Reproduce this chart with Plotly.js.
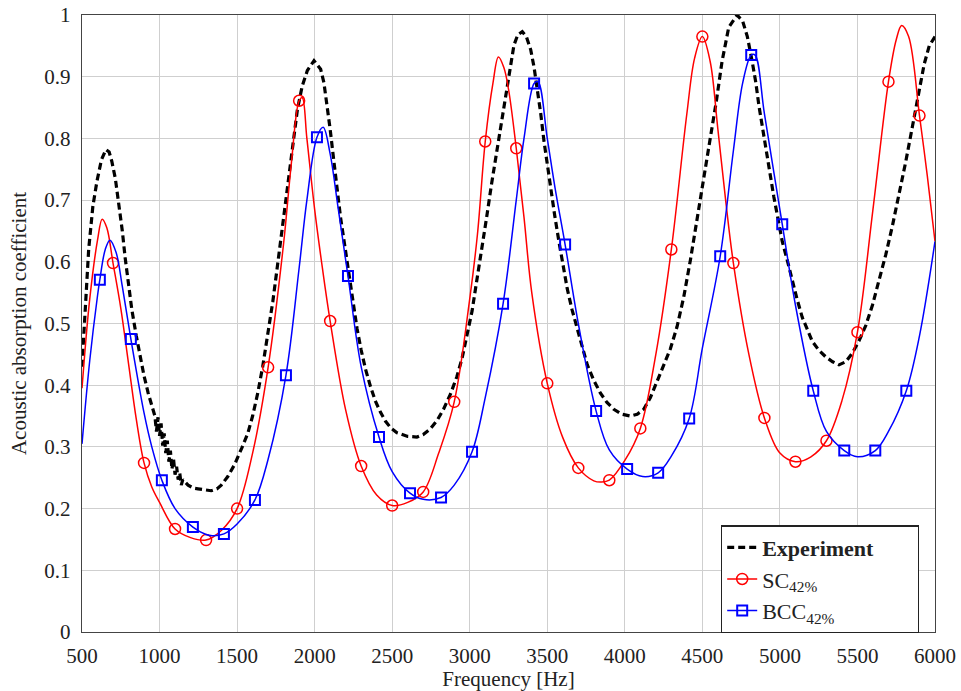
<!DOCTYPE html>
<html>
<head>
<meta charset="utf-8">
<script src="https://cdn.plot.ly/plotly-3.0.1.min.js"></script>
<style>html,body{margin:0;padding:0;background:#fff;}#chart{width:961px;height:691px;}</style>
</head>
<body>
<div id="chart"></div>
<script>
// ---- Experiment (measured) ----
const expFreq = [500,520,543,570,596,625,654,675,692,715,735,760,778,800,821,850,874,900,927,950,970,980,990,1000,1010,1020,1030,1040,1050,1060,1070,1080,1090,1100,1110,1120,1130,1140,1150,1184,1220,1248,1290,1333,1370,1398,1440,1483,1530,1569,1600,1633,1665,1697,1730,1761,1795,1825,1860,1889,1920,1953,1996,2039,2060,2081,2100,2124,2145,2167,2195,2221,2250,2274,2300,2328,2360,2392,2425,2456,2490,2531,2600,2659,2700,2745,2790,2831,2875,2916,2950,2981,3015,3045,3075,3109,3140,3173,3205,3238,3260,3285,3310,3339,3365,3393,3415,3436,3458,3479,3500,3521,3548,3575,3600,3629,3660,3693,3725,3758,3800,3843,3885,3929,3980,4036,4080,4122,4165,4208,4250,4294,4337,4380,4423,4466,4510,4552,4590,4627,4670,4724,4760,4790,4821,4845,4864,4885,4907,4935,4961,4990,5015,5050,5080,5110,5144,5175,5209,5250,5295,5340,5381,5425,5467,5510,5554,5597,5640,5683,5726,5770,5812,5855,5899,5930,5963,6000];
const expAbs = [0.43,0.52,0.62,0.69,0.73,0.765,0.782,0.778,0.763,0.735,0.698,0.65,0.607,0.565,0.523,0.48,0.446,0.415,0.387,0.365,0.35,0.325,0.348,0.318,0.338,0.302,0.322,0.29,0.31,0.276,0.294,0.264,0.281,0.255,0.268,0.247,0.258,0.238,0.247,0.238,0.233,0.232,0.23,0.229,0.232,0.238,0.252,0.271,0.298,0.322,0.35,0.387,0.43,0.478,0.535,0.595,0.66,0.724,0.79,0.847,0.885,0.91,0.926,0.912,0.89,0.854,0.815,0.763,0.715,0.672,0.625,0.582,0.535,0.491,0.457,0.426,0.398,0.374,0.356,0.342,0.331,0.323,0.317,0.316,0.32,0.329,0.343,0.361,0.385,0.413,0.443,0.478,0.52,0.569,0.615,0.672,0.725,0.776,0.83,0.88,0.915,0.951,0.968,0.973,0.965,0.944,0.915,0.88,0.84,0.795,0.757,0.718,0.675,0.633,0.595,0.556,0.522,0.491,0.46,0.433,0.408,0.387,0.372,0.361,0.353,0.35,0.353,0.361,0.38,0.407,0.43,0.459,0.495,0.543,0.603,0.672,0.74,0.802,0.86,0.925,0.98,1.0,0.99,0.965,0.925,0.89,0.854,0.82,0.782,0.745,0.705,0.665,0.633,0.6,0.569,0.54,0.51,0.49,0.471,0.457,0.446,0.438,0.433,0.438,0.452,0.472,0.497,0.53,0.569,0.612,0.659,0.71,0.763,0.82,0.88,0.92,0.95,0.965];

// ---- SC 42% (simulation) ----
const scFreq = [500,550,600,630,660,700,750,800,850,900,950,1000,1100,1200,1300,1400,1500,1600,1700,1800,1850,1900,1920,1950,2000,2050,2100,2200,2300,2400,2500,2600,2700,2800,2900,3000,3050,3100,3150,3185,3220,3250,3300,3350,3400,3500,3600,3700,3800,3850,3900,4000,4100,4200,4300,4400,4450,4500,4550,4600,4650,4700,4800,4900,5000,5100,5200,5300,5400,5500,5600,5700,5750,5785,5830,5900,5950,6000];
const scAbs  = [0.395,0.54,0.635,0.669,0.655,0.598,0.525,0.435,0.345,0.274,0.235,0.21,0.167,0.153,0.149,0.165,0.2,0.29,0.429,0.63,0.76,0.861,0.866,0.8,0.685,0.59,0.504,0.36,0.269,0.222,0.205,0.21,0.227,0.29,0.373,0.54,0.645,0.795,0.89,0.932,0.915,0.88,0.784,0.672,0.55,0.403,0.315,0.266,0.245,0.243,0.246,0.278,0.33,0.45,0.62,0.84,0.93,0.965,0.925,0.815,0.7,0.598,0.45,0.347,0.29,0.276,0.284,0.31,0.375,0.486,0.685,0.892,0.96,0.983,0.965,0.837,0.74,0.633];
const scMarkFreq = [700,900,1100,1300,1500,1700,1900,2100,2300,2500,2700,2900,3100,3300,3500,3700,3900,4100,4300,4500,4700,4900,5100,5300,5500,5700,5900];

// ---- BCC 42% (simulation) ----
const bccFreq = [500,550,600,615,650,680,720,760,815,900,950,1015,1100,1215,1300,1340,1415,1500,1615,1700,1815,1900,1950,2015,2055,2100,2150,2215,2300,2415,2500,2615,2700,2815,2900,3015,3100,3215,3300,3350,3415,3440,3500,3550,3615,3700,3815,3900,4015,4115,4215,4300,4415,4500,4615,4700,4760,4815,4840,4900,5015,5100,5215,5300,5415,5500,5615,5700,5815,5900,6000];
const bccAbs  = [0.305,0.44,0.545,0.571,0.62,0.635,0.615,0.56,0.475,0.355,0.3,0.246,0.2,0.17,0.158,0.156,0.159,0.175,0.214,0.28,0.416,0.59,0.7,0.802,0.818,0.775,0.69,0.577,0.43,0.316,0.26,0.225,0.215,0.218,0.238,0.292,0.38,0.532,0.7,0.8,0.889,0.892,0.8,0.72,0.628,0.5,0.358,0.295,0.264,0.252,0.258,0.285,0.346,0.46,0.609,0.78,0.89,0.935,0.935,0.84,0.661,0.53,0.391,0.325,0.294,0.284,0.294,0.325,0.391,0.48,0.633];
const bccMarkFreq = [615,815,1015,1215,1415,1615,1815,2015,2215,2415,2615,2815,3015,3215,3415,3615,3815,4015,4215,4415,4615,4815,5015,5215,5415,5615,5815];

// ---- axis ticks / labels ----
const xTicks = [500,1000,1500,2000,2500,3000,3500,4000,4500,5000,5500,6000];
const yTicks = [0,0.1,0.2,0.3,0.4,0.5,0.6,0.7,0.8,0.9,1];
const seriesNames = ['<b>Experiment</b>&nbsp;&nbsp;&nbsp;&nbsp;&nbsp;&nbsp;&nbsp;','SC<sub>42%</sub>','BCC<sub>42%</sub>'];

function markerSeries(freq, vals, marks){
  const xs=[], ys=[];
  marks.forEach(function(f){
    const i = freq.indexOf(f);
    xs.push(f); ys.push(vals[i]);
    xs.push(null); ys.push(null);
  });
  return {x:xs, y:ys};
}
const scM = markerSeries(scFreq, scAbs, scMarkFreq);
const bccM = markerSeries(bccFreq, bccAbs, bccMarkFreq);

const RED='#ff0000', BLUE='#0000ff';
const traces = [
  {x:expFreq, y:expAbs, mode:'lines', name:seriesNames[0],
   line:{color:'#000', width:3.2, dash:'7px,4px'}},
  {x:scFreq, y:scAbs, mode:'lines', showlegend:false, hoverinfo:'skip',
   line:{color:RED, width:1.5, shape:'spline', smoothing:1}},
  {x:scM.x, y:scM.y, mode:'lines+markers', name:seriesNames[1], connectgaps:false,
   line:{color:RED, width:1.5},
   marker:{symbol:'circle-open', size:11, color:RED, line:{width:1.5, color:RED}}},
  {x:bccFreq, y:bccAbs, mode:'lines', showlegend:false, hoverinfo:'skip',
   line:{color:BLUE, width:1.5, shape:'spline', smoothing:1}},
  {x:bccM.x, y:bccM.y, mode:'lines+markers', name:seriesNames[2], connectgaps:false,
   line:{color:BLUE, width:1.5},
   marker:{symbol:'square-open', size:10, color:BLUE, line:{width:2, color:BLUE}}}
];

const FONT = '"Liberation Serif", "Times New Roman", serif';
const layout = {
  width:961, height:691,
  margin:{l:82, r:26, t:15, b:59},
  paper_bgcolor:'#fff', plot_bgcolor:'#fff',
  font:{family:FONT, size:20, color:'#222'},
  showlegend:true,
  xaxis:{range:[500,6000], tickvals:xTicks, ticktext:xTicks.map(String),
    showgrid:true, gridcolor:'#cfcfcf', gridwidth:1, zeroline:false,
    showline:true, mirror:true, linecolor:'#444', linewidth:1.3,
    ticks:'', ticklabelstandoff:4, tickfont:{size:21},
    title:{text:'Frequency [Hz]', font:{size:21}, standoff:8}},
  yaxis:{range:[0,1], tickvals:yTicks, ticktext:yTicks.map(String),
    showgrid:true, gridcolor:'#cfcfcf', gridwidth:1, zeroline:false,
    showline:true, mirror:true, linecolor:'#444', linewidth:1.3,
    ticks:'', ticklabelstandoff:6, tickfont:{size:21},
    title:{text:'Acoustic absorption coefficient', font:{size:21}, standoff:12}},
  legend:{x:0.749, y:0.173, xanchor:'left', yanchor:'top',
    bgcolor:'#fff', bordercolor:'#222', borderwidth:1.3,
    font:{size:22, color:'#222'}, tracegroupgap:0}
};

Plotly.newPlot('chart', traces, layout, {displayModeBar:false, staticPlot:true});
</script>
</body>
</html>
